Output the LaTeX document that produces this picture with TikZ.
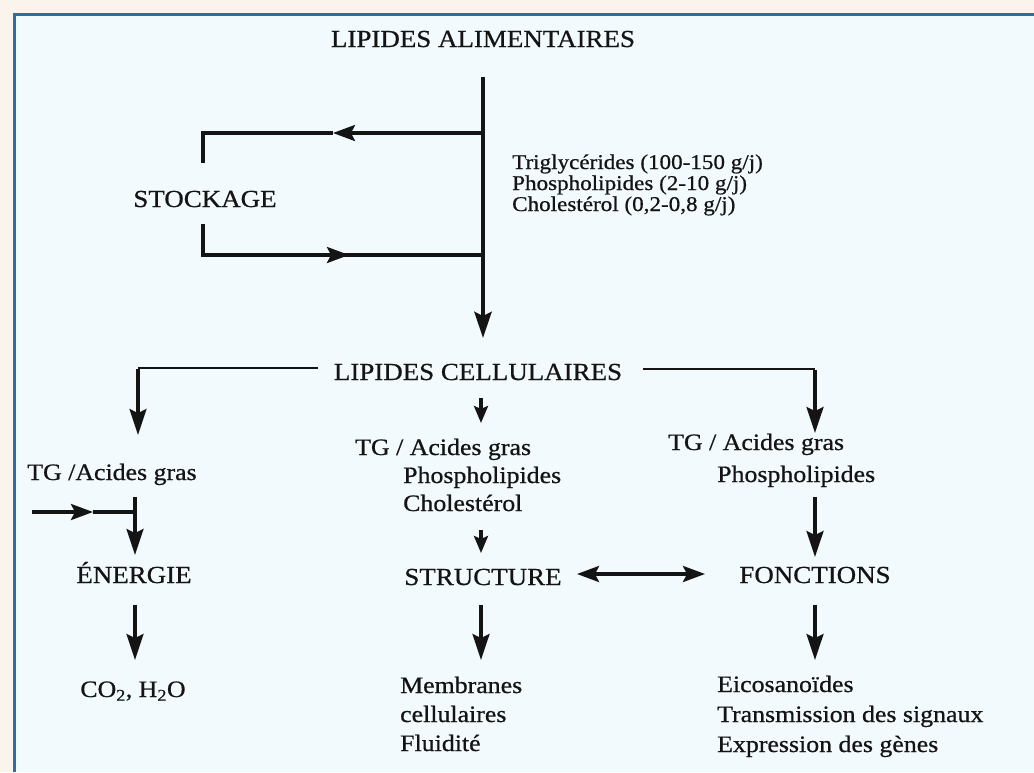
\documentclass[tikz,border=0pt]{standalone}
\usepackage{fontspec}
\setmainfont{Liberation Serif}[FakeStretch=1.1,FakeBold=0.7]
\usetikzlibrary{arrows.meta}
\definecolor{outerbg}{HTML}{FBF4EC}
\definecolor{innerbg}{HTML}{F3FAFD}
\definecolor{frameblue}{HTML}{2F6DA8}
\definecolor{ink}{HTML}{141414}
\tikzset{
  capt/.style={font=\fontsize{24.5}{28}\selectfont, text=ink, inner sep=0pt, anchor=base},
  bodyc/.style={font=\fontsize{23.5}{29}\selectfont, text=ink, inner sep=0pt, anchor=base},
  bodyw/.style={font=\fontsize{23.5}{29}\selectfont, text=ink, inner sep=0pt, anchor=base west},
  triw/.style={font=\fontsize{21}{21}\selectfont, text=ink, inner sep=0pt, anchor=base west},
  mainline/.style={draw=ink, line width=4.5pt},
  loopline/.style={draw=ink, line width=3.2pt, line join=miter},
  vline/.style={draw=ink, line width=3.2pt},
  hthin/.style={draw=ink, line width=2.2pt},
  bigtip/.style={-{Stealth[length=26pt,width=17pt,inset=4pt]}},
  midtip/.style={-{Stealth[length=22pt,width=16pt,inset=4pt]}},
  smalltip/.style={-{Stealth[length=17pt,width=14pt,inset=3pt]}},
  dbltip/.style={{Stealth[length=22pt,width=16pt,inset=4pt]}-{Stealth[length=22pt,width=16pt,inset=4pt]}},
}
\begin{document}
\begin{tikzpicture}[x=1pt,y=-1pt]
\useasboundingbox (0,0) rectangle (1034,772);
\fill[outerbg] (0,0) rectangle (1034,772);
\fill[innerbg] (15,15) rectangle (1034,772);
\draw[frameblue, line width=3pt] (14.5,772) -- (14.5,14.5) -- (1034,14.5);

% texts
\node[capt] (alim) at (483,47) {LIPIDES ALIMENTAIRES};
\node[capt] (stock) at (205,207) {STOCKAGE};
\node[triw] (tri1) at (512,169) {Triglycérides (100-150 g/j)};
\node[triw] (tri2) at (512,190) {Phospholipides (2-10 g/j)};
\node[triw] (tri3) at (512,211) {Cholestérol (0,2-0,8 g/j)};
\node[capt] (cell) at (478,380) {LIPIDES CELLULAIRES};
\node[bodyc] (tgL) at (112,480) {TG /Acides gras};
\node[capt] (ener) at (134,583) {ÉNERGIE};
\node[bodyc] (co2) at (133,697) {CO\textsubscript{2}, H\textsubscript{2}O};
\node[bodyw] (tgM) at (355,455) {TG / Acides gras};
\node[bodyw] (phM) at (403,483) {Phospholipides};
\node[bodyw] (chM) at (403,511) {Cholestérol};
\node[capt] (struc) at (483,585) {STRUCTURE};
\node[capt] (fonc) at (815,583) {FONCTIONS};
\node[bodyw] (mem1) at (400,693) {Membranes};
\node[bodyw] (mem2) at (400,722) {cellulaires};
\node[bodyw] (mem3) at (400,751) {Fluidité};
\node[bodyw] (tgR) at (668,450) {TG / Acides gras};
\node[bodyw] (phR) at (717,482) {Phospholipides};
\node[bodyw] (eic1) at (717,692) {Eicosanoïdes};
\node[bodyw] (eic2) at (717,722) {Transmission des signaux};
\node[bodyw] (eic3) at (717,752) {Expression des gènes};

% coordinates
\coordinate (m0) at (483,77);
\coordinate (m1) at (483,338);
\coordinate (j1) at (483,133);
\coordinate (a1) at (333,133);
\coordinate (c1) at (203,133);
\coordinate (s1) at (203,163);
\coordinate (s2) at (203,224);
\coordinate (c2) at (203,255);
\coordinate (a2) at (349,255);
\coordinate (j2) at (483,255);
\coordinate (cl0) at (318,368);
\coordinate (cl1) at (138,368);
\coordinate (cl2) at (138,435);
\coordinate (cr0) at (643,369);
\coordinate (cr1) at (815,369);
\coordinate (cr2) at (815,433);
\coordinate (cm0) at (481,398);
\coordinate (cm1) at (481,423);
\coordinate (t0) at (32,512);
\coordinate (ta) at (93,512);
\coordinate (t1) at (135,512);
\coordinate (tv0) at (135,497);
\coordinate (tv1) at (135,555);
\coordinate (e0) at (135,605);
\coordinate (e1) at (135,660);
\coordinate (sm0) at (481,530);
\coordinate (sm1) at (481,553);
\coordinate (st0) at (481,605);
\coordinate (st1) at (481,660);
\coordinate (d0) at (577,574);
\coordinate (d1) at (705,574);
\coordinate (f0) at (815,497);
\coordinate (f1) at (815,557);
\coordinate (g0) at (815,605);
\coordinate (g1) at (815,660);

% connectors
\draw[mainline, bigtip] (m0) -- (m1);
\draw[loopline, midtip] (j1) -- (a1);
\draw[loopline] (a1) -- (c1) -- (s1);
\draw[loopline] (s2) -- (c2) -- (a2);
\draw[loopline, midtip] (c2) -- (a2);
\draw[loopline] (a2) -- (j2);

\draw[hthin] (cl0) -- (cl1);
\draw[vline, bigtip] ([yshift=-1.1pt]cl1) -- (cl2);
\draw[hthin] (cr0) -- (cr1);
\draw[vline, bigtip] ([yshift=-1.1pt]cr1) -- (cr2);
\draw[vline, smalltip] (cm0) -- (cm1);

\draw[vline, midtip] (t0) -- (ta);
\draw[vline] (ta) -- (t1);
\draw[vline, bigtip] (tv0) -- (tv1);

\draw[vline, bigtip] (e0) -- (e1);
\draw[vline, smalltip] (sm0) -- (sm1);
\draw[vline, bigtip] (st0) -- (st1);
\draw[vline, dbltip] (d0) -- (d1);
\draw[vline, bigtip] (f0) -- (f1);
\draw[vline, bigtip] (g0) -- (g1);
\end{tikzpicture}
\end{document}
